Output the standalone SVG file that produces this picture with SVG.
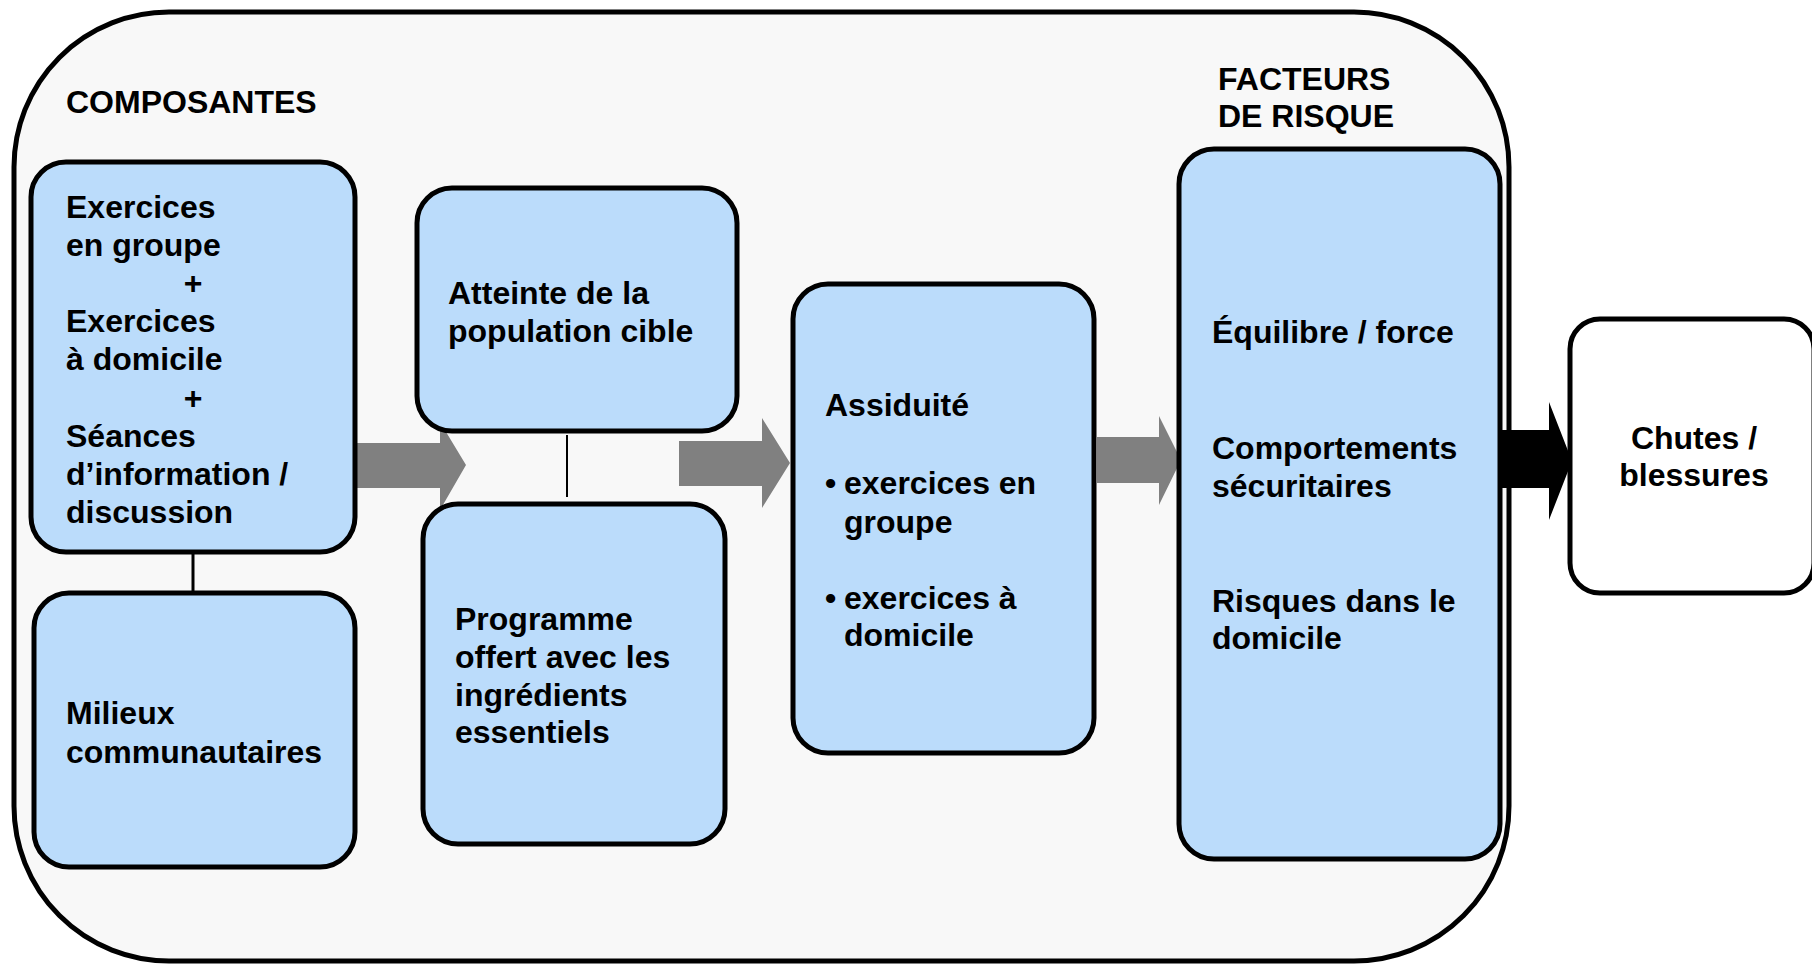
<svg xmlns="http://www.w3.org/2000/svg" width="1812" height="965" viewBox="0 0 1812 965">
<style>
.box{fill:#bbdcfb;stroke:#000;stroke-width:5}
.wbox{fill:#fff;stroke:#000;stroke-width:5}
.t{font-family:"Liberation Sans",Arial,sans-serif;font-weight:bold;font-size:32px;fill:#000}
.c{text-anchor:middle}
.ln{stroke:#000;fill:none}
.ga{fill:#808080}
</style>
<rect width="1812" height="965" fill="#fff"/>
<g id="container">
<rect x="14" y="12" width="1495" height="949" rx="155" ry="155" fill="#f8f8f8" stroke="#000" stroke-width="5"/>
<text class="t" x="66" y="113">COMPOSANTES</text>
<text class="t" x="1218" y="90">FACTEURS</text>
<text class="t" x="1218" y="127">DE RISQUE</text>
</g>
<g id="connectors">
<line class="ln" x1="193" y1="552" x2="193" y2="593" stroke-width="3"/>
<line class="ln" x1="567" y1="435" x2="567" y2="497" stroke-width="2"/>
<polygon class="ga" points="357,443 440,443 440,422 466,465 440,510 440,488 357,488"/>
<polygon class="ga" points="679,441 762,441 762,418 790,463 762,508 762,486 679,486"/>
<polygon class="ga" points="1097,437 1159,437 1159,416 1181,460 1159,505 1159,483 1097,483"/>
<polygon fill="#000" points="1499,430 1549,430 1549,402 1572,461 1549,520 1549,488 1499,488"/>
</g>
<g id="n-exercices">
<rect class="box" x="31" y="162" width="324" height="390" rx="35"/>
<text class="t" x="66" y="218">Exercices</text>
<text class="t" x="66" y="256">en groupe</text>
<text class="t c" x="193" y="294">+</text>
<text class="t" x="66" y="332">Exercices</text>
<text class="t" x="66" y="370">à domicile</text>
<text class="t c" x="193" y="409">+</text>
<text class="t" x="66" y="447">Séances</text>
<text class="t" x="66" y="485">d’information /</text>
<text class="t" x="66" y="523">discussion</text>
</g>
<g id="n-milieux">
<rect class="box" x="34" y="593" width="321" height="274" rx="35"/>
<text class="t" x="66" y="724">Milieux</text>
<text class="t" x="66" y="763">communautaires</text>
</g>
<g id="n-atteinte">
<rect class="box" x="417" y="188" width="320" height="243" rx="35"/>
<text class="t" x="448" y="304">Atteinte de la</text>
<text class="t" x="448" y="342">population cible</text>
</g>
<g id="n-programme">
<rect class="box" x="423" y="504" width="302" height="340" rx="35"/>
<text class="t" x="455" y="630">Programme</text>
<text class="t" x="455" y="668">offert avec les</text>
<text class="t" x="455" y="706">ingrédients</text>
<text class="t" x="455" y="743">essentiels</text>
</g>
<g id="n-assiduite">
<rect class="box" x="793" y="284" width="301" height="469" rx="35"/>
<text class="t" x="825" y="416">Assiduité</text>
<text class="t" x="825" y="494">•</text>
<text class="t" x="844" y="494">exercices en</text>
<text class="t" x="844" y="533">groupe</text>
<text class="t" x="825" y="609">•</text>
<text class="t" x="844" y="609">exercices à</text>
<text class="t" x="844" y="646">domicile</text>
</g>
<g id="n-facteurs">
<rect class="box" x="1179" y="149" width="321" height="710" rx="35"/>
<text class="t" x="1212" y="343">Équilibre / force</text>
<text class="t" x="1212" y="459">Comportements</text>
<text class="t" x="1212" y="497">sécuritaires</text>
<text class="t" x="1212" y="612">Risques dans le</text>
<text class="t" x="1212" y="649">domicile</text>
</g>
<g id="n-chutes">
<rect class="wbox" x="1570" y="319" width="244" height="274" rx="30"/>
<text class="t c" x="1694" y="449">Chutes /</text>
<text class="t c" x="1694" y="486">blessures</text>
</g>
</svg>
